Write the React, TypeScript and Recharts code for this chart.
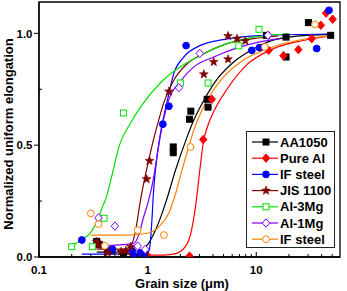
import React from "react";
import {
  ComposedChart,
  Line,
  Scatter,
  XAxis,
  YAxis,
  ReferenceArea,
  Legend,
} from "recharts";

const FONT = "'Liberation Sans', Arial, Helvetica, sans-serif";

// measured points: x = grain size (µm), y = normalized uniform elongation
const aa1050Points = [
  { x: 0.34, y: 0.07 }, { x: 0.36, y: 0.055 }, { x: 0.43, y: 0.03 }, { x: 0.47, y: 0.03 },
  { x: 0.6, y: 0.02 }, { x: 1.72, y: 0.492 }, { x: 1.72, y: 0.466 }, { x: 2.43, y: 0.616 },
  { x: 2.5, y: 0.652 }, { x: 3.53, y: 0.705 }, { x: 3.6, y: 0.67 }, { x: 12.4, y: 0.991 },
  { x: 18.8, y: 0.983 }, { x: 18.8, y: 0.894 }, { x: 30.2, y: 1.048 }, { x: 48.4, y: 0.991 },
];
const pureAlPoints = [
  { x: 0.72, y: 0.015 }, { x: 0.88, y: 0.015 }, { x: 0.98, y: 0.01 }, { x: 2.43, y: 0.004 },
  { x: 3.25, y: 0.525 }, { x: 3.9, y: 0.705 }, { x: 13, y: 0.924 }, { x: 17.8, y: 0.9 },
  { x: 24.4, y: 0.927 }, { x: 32.4, y: 0.976 }, { x: 39.3, y: 1.036 }, { x: 43.9, y: 1.09 },
  { x: 50.5, y: 1.063 },
];
const ifSteelPoints = [
  { x: 0.248, y: 0.076 }, { x: 0.474, y: 0.034 }, { x: 0.72, y: 0.028 }, { x: 0.75, y: 0.003 },
  { x: 0.86, y: 0.019 }, { x: 0.92, y: 0.013 }, { x: 1.38, y: 0.594 }, { x: 1.57, y: 0.674 },
  { x: 2.26, y: 0.945 }, { x: 9.1, y: 0.924 }, { x: 10.7, y: 0.936 }, { x: 36, y: 0.932 },
  { x: 46.7, y: 1.103 },
];
const jis1100Points = [
  { x: 0.34, y: 0.068 }, { x: 0.35, y: 0.054 }, { x: 0.43, y: 0.019 }, { x: 0.57, y: 0.024 },
  { x: 0.63, y: 0.028 }, { x: 0.7, y: 0.046 }, { x: 0.98, y: 0.348 }, { x: 1.04, y: 0.43 },
  { x: 1.57, y: 0.74 }, { x: 3.29, y: 0.817 }, { x: 4.06, y: 0.872 }, { x: 5.5, y: 0.884 },
  { x: 5.5, y: 0.988 }, { x: 6.65, y: 0.976 }, { x: 7.93, y: 0.966 },
];
const al3MgPoints = [
  { x: 0.2, y: 0.046 }, { x: 0.31, y: 0.046 }, { x: 0.397, y: 0.173 }, { x: 0.6, y: 0.644 },
  { x: 2.0, y: 0.778 }, { x: 3.6, y: 0.778 }, { x: 6.9, y: 0.944 }, { x: 10.6, y: 1.018 },
];
const al1MgPoints = [
  { x: 0.353, y: 0.175 }, { x: 0.5, y: 0.138 }, { x: 0.81, y: 0.049 }, { x: 0.95, y: 0.034 },
  { x: 1.94, y: 0.757 }, { x: 3.02, y: 0.91 }, { x: 12.8, y: 0.991 },
];
const ifSteel2Points = [
  { x: 0.3, y: 0.195 }, { x: 0.353, y: 0.147 }, { x: 0.404, y: 0.05 }, { x: 0.81, y: 0.12 },
  { x: 1.41, y: 0.098 }, { x: 2.48, y: 0.492 }, { x: 12, y: 0.939 }, { x: 34.7, y: 1.04 },
];

// fitted curves
const aa1050Fit = [
  { x: 0.34, y: 0.022 }, { x: 0.6, y: 0.022 }, { x: 0.85, y: 0.028 }, { x: 0.96, y: 0.045 },
  { x: 1.18, y: 0.12 }, { x: 1.46, y: 0.24 }, { x: 1.81, y: 0.39 }, { x: 2.31, y: 0.537 },
  { x: 2.66, y: 0.612 }, { x: 3.29, y: 0.7 }, { x: 4.36, y: 0.795 }, { x: 6.2, y: 0.872 },
  { x: 9.4, y: 0.93 }, { x: 13.4, y: 0.965 }, { x: 20, y: 0.983 }, { x: 48.4, y: 0.995 },
];
const pureAlFit = [
  { x: 0.72, y: 0.008 }, { x: 1.2, y: 0.008 }, { x: 1.68, y: 0.012 }, { x: 2.0, y: 0.025 },
  { x: 2.39, y: 0.075 }, { x: 2.75, y: 0.22 }, { x: 3.06, y: 0.41 }, { x: 3.25, y: 0.51 },
  { x: 3.6, y: 0.59 }, { x: 4.06, y: 0.65 }, { x: 5.38, y: 0.75 }, { x: 8.2, y: 0.86 },
  { x: 13.4, y: 0.925 }, { x: 27, y: 0.968 }, { x: 50.5, y: 0.99 },
];
const ifSteelFit = [
  { x: 0.248, y: 0.013 }, { x: 0.5, y: 0.013 }, { x: 0.9, y: 0.014 }, { x: 1.0, y: 0.018 },
  { x: 1.04, y: 0.035 }, { x: 1.08, y: 0.12 }, { x: 1.14, y: 0.31 }, { x: 1.23, y: 0.463 },
  { x: 1.32, y: 0.56 }, { x: 1.41, y: 0.63 }, { x: 1.52, y: 0.7 }, { x: 1.74, y: 0.82 },
  { x: 2.15, y: 0.894 }, { x: 3.06, y: 0.946 }, { x: 5.38, y: 0.975 }, { x: 10.8, y: 0.99 },
  { x: 46.7, y: 0.997 },
];
const jis1100Fit = [
  { x: 0.34, y: 0.035 }, { x: 0.6, y: 0.035 }, { x: 0.7, y: 0.05 }, { x: 0.776, y: 0.12 },
  { x: 0.85, y: 0.24 }, { x: 0.92, y: 0.33 }, { x: 1.03, y: 0.44 }, { x: 1.14, y: 0.53 },
  { x: 1.27, y: 0.615 }, { x: 1.41, y: 0.69 }, { x: 1.74, y: 0.79 }, { x: 2.31, y: 0.864 },
  { x: 3.29, y: 0.909 }, { x: 5.38, y: 0.954 }, { x: 9.4, y: 0.976 }, { x: 16, y: 0.988 },
];
const al3MgFit = [
  { x: 0.2, y: 0.05 }, { x: 0.243, y: 0.075 }, { x: 0.3, y: 0.11 }, { x: 0.346, y: 0.165 },
  { x: 0.384, y: 0.225 }, { x: 0.412, y: 0.26 }, { x: 0.458, y: 0.344 }, { x: 0.55, y: 0.5 },
  { x: 0.7, y: 0.6 }, { x: 0.863, y: 0.671 }, { x: 1.32, y: 0.78 }, { x: 2.0, y: 0.85 },
  { x: 3.29, y: 0.909 }, { x: 5.38, y: 0.954 }, { x: 9.4, y: 0.983 }, { x: 20, y: 0.997 },
];
const al1MgFit = [
  { x: 0.35, y: 0.05 }, { x: 0.6, y: 0.055 }, { x: 0.75, y: 0.062 }, { x: 0.83, y: 0.1 },
  { x: 0.92, y: 0.18 }, { x: 0.99, y: 0.23 }, { x: 1.1, y: 0.32 }, { x: 1.23, y: 0.46 },
  { x: 1.32, y: 0.55 }, { x: 1.41, y: 0.62 }, { x: 1.56, y: 0.7 }, { x: 2.0, y: 0.785 },
  { x: 2.66, y: 0.85 }, { x: 4.06, y: 0.894 }, { x: 6.65, y: 0.935 }, { x: 10.8, y: 0.962 },
  { x: 16.6, y: 0.976 },
];
const ifSteel2Fit = [
  { x: 0.3, y: 0.098 }, { x: 0.63, y: 0.098 }, { x: 0.96, y: 0.105 }, { x: 1.27, y: 0.135 },
  { x: 1.56, y: 0.195 }, { x: 1.81, y: 0.284 }, { x: 2.07, y: 0.388 }, { x: 2.39, y: 0.492 },
  { x: 2.66, y: 0.567 }, { x: 3.53, y: 0.7 }, { x: 5.0, y: 0.805 }, { x: 7.6, y: 0.88 },
  { x: 11.7, y: 0.924 }, { x: 16.6, y: 0.95 }, { x: 31, y: 0.978 }, { x: 48, y: 0.99 },
];

const xTicks = [
  0.1, 0.2, 0.3, 0.4, 0.5, 0.6, 0.7, 0.8, 0.9, 1, 2, 3, 4, 5, 6, 7, 8, 9, 10, 20, 30, 40, 50,
];
const xLabels: Record<number, string> = { 0.1: "0.1", 1: "1", 10: "10" };
const yTicks = [0, 0.25, 0.5, 0.75, 1.0];
const yLabels: Record<number, string> = { 0: "0.0", 0.5: "0.5", 1: "1.0" };

type Shape = "square" | "diamond" | "circle" | "star";

const series: {
  name: string;
  color: string;
  shape: Shape;
  filled: boolean;
  points: { x: number; y: number }[];
  fit: { x: number; y: number }[];
}[] = [
  { name: "AA1050", color: "#000000", shape: "square", filled: true, points: aa1050Points, fit: aa1050Fit },
  { name: "Pure Al", color: "#ff0000", shape: "diamond", filled: true, points: pureAlPoints, fit: pureAlFit },
  { name: "IF steel", color: "#0000ff", shape: "circle", filled: true, points: ifSteelPoints, fit: ifSteelFit },
  { name: "JIS 1100", color: "#800000", shape: "star", filled: true, points: jis1100Points, fit: jis1100Fit },
  { name: "Al-3Mg", color: "#00e000", shape: "square", filled: false, points: al3MgPoints, fit: al3MgFit },
  { name: "Al-1Mg", color: "#8000ff", shape: "diamond", filled: false, points: al1MgPoints, fit: al1MgFit },
  { name: "IF steel", color: "#ff8000", shape: "circle", filled: false, points: ifSteel2Points, fit: ifSteel2Fit },
];

function Marker({ cx, cy, shape, color, filled }: any) {
  const fill = filled ? color : "#fff";
  if (shape === "square")
    return <rect x={cx - 3} y={cy - 3} width={6} height={6} fill={fill} stroke={color} strokeWidth={1} />;
  if (shape === "circle") return <circle cx={cx} cy={cy} r={3.4} fill={fill} stroke={color} strokeWidth={1} />;
  if (shape === "diamond")
    return (
      <polygon
        points={`${cx},${cy - 4.2} ${cx + 3.7},${cy} ${cx},${cy + 4.2} ${cx - 3.7},${cy}`}
        fill={fill}
        stroke={color}
        strokeWidth={1}
      />
    );
  // five-pointed star
  const pts: string[] = [];
  for (let i = 0; i < 10; i++) {
    const r = i % 2 === 0 ? 4.6 : 1.9;
    const a = -Math.PI / 2 + (i * Math.PI) / 5;
    pts.push(`${cx + r * Math.cos(a)},${cy + r * Math.sin(a)}`);
  }
  return <polygon points={pts.join(" ")} fill={fill} stroke={color} strokeWidth={0.6} />;
}

const XTick = ({ x, y, payload }: any) => {
  const label = xLabels[payload.value];
  return (
    <g>
      <line x1={x} x2={x} y1={y} y2={y - (label ? 5 : 3)} stroke="#000" strokeWidth={1} />
      {label && (
        <text x={x} y={y + 16.5} textAnchor="middle" fontFamily={FONT} fontWeight="bold" fontSize={11.5} fill="#000">
          {label}
        </text>
      )}
    </g>
  );
};

const YTick = ({ x, y, payload }: any) => {
  const label = yLabels[payload.value];
  return (
    <g>
      {label ? (
        <line x1={x} x2={x - 5} y1={y} y2={y} stroke="#000" strokeWidth={1} />
      ) : (
        <line x1={x} x2={x + 3} y1={y} y2={y} stroke="#000" strokeWidth={1} />
      )}
      {label && (
        <text x={x - 6.5} y={y + 4.2} textAnchor="end" fontFamily={FONT} fontWeight="bold" fontSize={11.5} fill="#000">
          {label}
        </text>
      )}
    </g>
  );
};

const XTitle = () => (
  <text x={182} y={287.5} textAnchor="middle" fontFamily={FONT} fontWeight="bold" fontSize={13} fill="#000">
    Grain size (μm)
  </text>
);

const YTitle = () => (
  <text
    x={12.5}
    y={134}
    transform="rotate(-90, 12.5, 134)"
    textAnchor="middle"
    fontFamily={FONT}
    fontWeight="bold"
    fontSize={13}
    fill="#000"
  >
    Normalized uniform elongation
  </text>
);

const LegendBox = () => (
  <svg width={90} height={118} style={{ display: "block" }}>
    <rect x={0.5} y={0.5} width={88} height={116} fill="#fff" stroke="#222" strokeWidth={1} />
    {series.map((s, i) => {
      const cy = 11 + i * 16.2;
      return (
        <g key={i}>
          <line x1={6} x2={32} y1={cy} y2={cy} stroke={s.color} strokeWidth={1.2} />
          <Marker cx={20} cy={cy} shape={s.shape} color={s.color} filled={s.filled} />
          <text x={34} y={cy + 4.6} fontFamily={FONT} fontWeight="bold" fontSize={13} fill="#000">
            {s.name}
          </text>
        </g>
      );
    })}
  </svg>
);

export default function App() {
  return (
    <div style={{ position: "absolute", left: 0, top: 0, background: "#fff" }}>
      <ComposedChart width={347} height={291} margin={{ top: 2, right: 7, bottom: 0, left: 0 }}>
        <XAxis
          dataKey="x"
          type="number"
          scale="log"
          domain={[0.1, 59]}
          allowDataOverflow
          ticks={xTicks}
          interval={0}
          tickSize={0}
          tickMargin={0}
          tick={<XTick />}
          tickLine={false}
          axisLine={{ stroke: "#000", strokeWidth: 1.3 }}
          height={34}
          label={<XTitle />}
        />
        <YAxis
          dataKey="y"
          type="number"
          domain={[0, 1.14]}
          allowDataOverflow
          ticks={yTicks}
          interval={0}
          tickSize={0}
          tickMargin={0}
          tick={<YTick />}
          tickLine={false}
          axisLine={{ stroke: "#000", strokeWidth: 1.3 }}
          width={39}
          label={<YTitle />}
        />
        <ReferenceArea x1={0.1} x2={59} y1={0} y2={1.14} fill="none" stroke="#000" strokeWidth={1.3} />
        {series.map((s, i) => (
          <Line
            key={"fit" + i}
            data={s.fit}
            dataKey="y"
            type="monotone"
            stroke={s.color}
            strokeWidth={1.2}
            dot={false}
            activeDot={false}
            legendType="none"
            isAnimationActive={false}
          />
        ))}
        {series.map((s, i) => (
          <Scatter
            key={"pts" + i}
            name={s.name}
            data={s.points}
            isAnimationActive={false}
            shape={(p: any) => <Marker cx={p.cx} cy={p.cy} shape={s.shape} color={s.color} filled={s.filled} />}
          />
        ))}
        <Legend
          layout="vertical"
          align="center"
          verticalAlign="middle"
          wrapperStyle={{ left: 246, top: 131, width: 90, height: 118 }}
          content={() => <LegendBox />}
        />
      </ComposedChart>
    </div>
  );
}
